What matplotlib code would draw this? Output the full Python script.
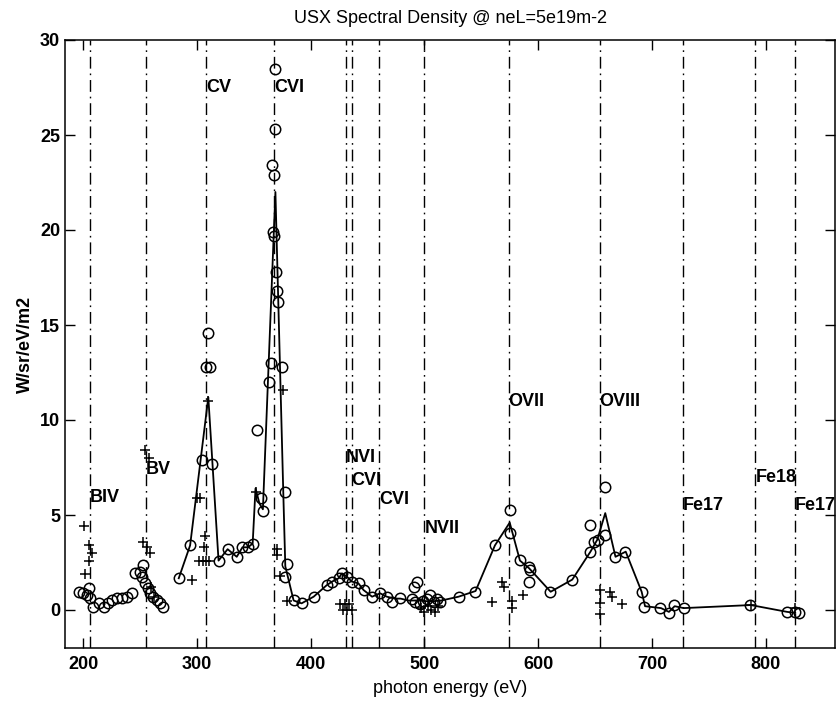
import numpy as np
import matplotlib
matplotlib.use("Agg")
import matplotlib.pyplot as plt

plt.rcParams['font.family'] = ['Liberation Sans', 'DejaVu Sans']

# line identifications
line_energy = [206, 255, 308, 368, 431, 436, 460, 500, 574, 654, 727, 791, 826]
line_name = ['BIV', 'BV', 'CV', 'CVI', 'NVI', 'CVI', 'CVI', 'NVII', 'OVII', 'OVIII',
             'Fe17', 'Fe18', 'Fe17']
label_height = [5.9, 7.4, 27.5, 27.5, 8.0, 6.8, 5.8, 4.3, 11.0, 11.0, 5.5, 7.0, 5.5]

# smoothed spectrum
fit_e = [284, 294, 310, 319, 327, 335, 340, 345, 349, 351.5, 355, 358, 369, 376, 377.7,
         385, 392, 402.6, 414, 419, 424.6, 427.5, 432, 436, 442, 446.5, 454, 461, 467,
         474, 479, 486, 495, 505, 515, 530, 545, 562, 575, 584, 592, 611, 630, 646,
         652, 659, 668, 677, 691, 694, 708, 715, 720, 728, 787, 819, 826]
fit_v = [1.67, 3.4, 11.2, 2.6, 3.2, 2.8, 3.3, 3.3, 3.5, 6.4, 5.6, 5.3, 22.0, 6.0, 2.3,
         0.5, 0.35, 0.7, 1.3, 1.5, 1.67, 1.93, 1.75, 1.5, 1.4, 1.05, 0.7, 0.88, 0.7,
         0.6, 0.6, 0.5, 0.5, 0.45, 0.5, 0.7, 1.0, 3.4, 4.6, 2.6, 2.2, 0.96, 1.6, 3.07,
         3.7, 5.1, 2.8, 3.07, 0.96, 0.2, 0.1, -0.1, 0.2, 0.1, 0.26, -0.1, -0.15]

# measured points (circles)
circ_e = [196, 200, 203, 205, 206, 209, 213.5, 218, 222, 225, 229.6, 234, 238.4, 242.8,
          245.7, 250, 251.6, 253, 254.5, 257.4, 259, 261.8, 264.8, 267.7, 270.6,
          284, 294, 304.5, 308, 310, 311.5, 313, 319, 327, 335, 340, 345, 349,
          353, 356, 358, 363, 365, 366, 367, 367.5, 368, 368.5, 369, 369.5, 370.5, 371,
          375, 377.7, 379.2, 377.7, 385, 392.3, 402.6, 414.3, 418.7, 424.6, 427.5,
          431.9, 436.3, 442.1, 446.5, 453.9, 461.2, 467.1, 471.5, 478.8, 490.5, 493.4,
          489, 492, 496, 499, 502, 505, 508, 511, 514, 530, 544.8, 562.4, 575.5,
          575.5, 584.3, 591.6, 593.1, 591.6, 610.7, 629.8, 646, 646, 648.8, 652.3,
          659.1, 659.1, 667.9, 676.7, 691.4, 692.9, 707.5, 714.8, 719.2, 728,
          786.6, 819, 826.2, 829.1]
circ_v = [0.96, 0.88, 0.79, 1.14, 0.61, 0.18, 0.35, 0.18, 0.35, 0.53, 0.61, 0.61, 0.7,
          0.88, 1.93, 2.0, 1.75, 2.37, 1.4, 1.14, 0.88, 0.7, 0.53, 0.35, 0.18,
          1.67, 3.42, 7.9, 12.8, 14.6, 12.8, 7.7, 2.6, 3.2, 2.8, 3.3, 3.3, 3.5,
          9.5, 5.9, 5.2, 12.0, 13.0, 23.4, 19.9, 19.7, 22.9, 28.5, 25.3, 17.8, 16.8,
          16.2, 12.8, 6.2, 2.4, 1.75, 0.53, 0.35, 0.7, 1.3, 1.5, 1.67, 1.93, 1.75,
          1.5, 1.4, 1.05, 0.7, 0.88, 0.7, 0.44, 0.61, 1.23, 1.49, 0.6, 0.4, 0.3, 0.5,
          0.6, 0.8, 0.4, 0.6, 0.4, 0.7, 0.96, 3.42, 5.26, 4.04, 2.63, 2.28, 2.1, 1.49,
          0.96, 1.58, 4.47, 3.07, 3.6, 3.68, 3.95, 6.5, 2.8, 3.07, 0.96, 0.18, 0.09,
          -0.18, 0.26, 0.09, 0.26, -0.09, -0.09, -0.18]

# measured points (pluses)
plus_e = [201, 205, 208, 205, 202, 254.5, 257.5, 253, 256, 258.5, 260, 262,
          296, 300, 303, 310, 307, 306, 302, 305, 308, 311, 352,
          376, 370, 370.5, 373, 379, 426, 428, 430, 432, 434, 436,
          497, 500, 503, 506, 509, 512, 559.5, 568, 570, 577, 577, 587,
          654.7, 663.5, 665, 673.8, 654.7, 654.7, 787, 826]
plus_v = [4.4, 3.4, 3.0, 2.6, 1.9, 8.4, 8.0, 3.6, 3.3, 3.0, 1.2, 0.7,
          1.6, 5.9, 5.9, 11.0, 3.9, 3.3, 2.6, 2.6, 2.6, 2.6, 6.2,
          11.6, 3.2, 2.9, 1.8, 0.5, 0.3, 0.0, 0.3, 0.0, 0.3, 0.0,
          0.1, -0.1, 0.2, 0.0, -0.1, 0.2, 0.44, 1.5, 1.2, 0.5, 0.1, 0.8,
          1.05, 0.96, 0.7, 0.3, 0.35, -0.2, 0.26, 0.1]

fig = plt.figure(figsize=(8.4, 7.06), dpi=100)
ax = fig.add_axes([65 / 840, 1 - 648 / 706, 770 / 840, 608 / 706])

for e, name, h in zip(line_energy, line_name, label_height):
    ax.axvline(e, color='black', lw=1.0, dashes=(8.5, 3.5, 1.2, 3.5))
    ax.text(e, h, name, fontsize=13, fontweight='bold', ha='left', va='center',
            clip_on=False)

ax.plot(fit_e, fit_v, color='black', lw=1.3)
ax.plot(circ_e, circ_v, 'o', mfc='none', mec='black', ms=7.5, mew=1.1)
ax.plot(plus_e, plus_v, '+', color='black', ms=7, mew=1.1)

ax.set_xlim(184, 861)
ax.set_ylim(-2, 30)
ax.set_xticks(np.arange(200, 801, 100))
ax.set_yticks(np.arange(0, 31, 5))
ax.tick_params(direction='in', length=7, width=1, top=True, right=True,
               labelsize=13)
ax.tick_params(axis='x', pad=6)
for lab in ax.get_xticklabels() + ax.get_yticklabels():
    lab.set_fontweight('bold')
for sp in ax.spines.values():
    sp.set_linewidth(1.1)

ax.set_title('USX Spectral Density @ neL=5e19m-2', fontsize=13, pad=12)
ax.set_xlabel('photon energy (eV)', fontsize=13, labelpad=5)
ax.set_ylabel('W/sr/eV/m2', fontsize=13, fontweight='bold', labelpad=4)

fig.savefig('out.png', dpi=100)
